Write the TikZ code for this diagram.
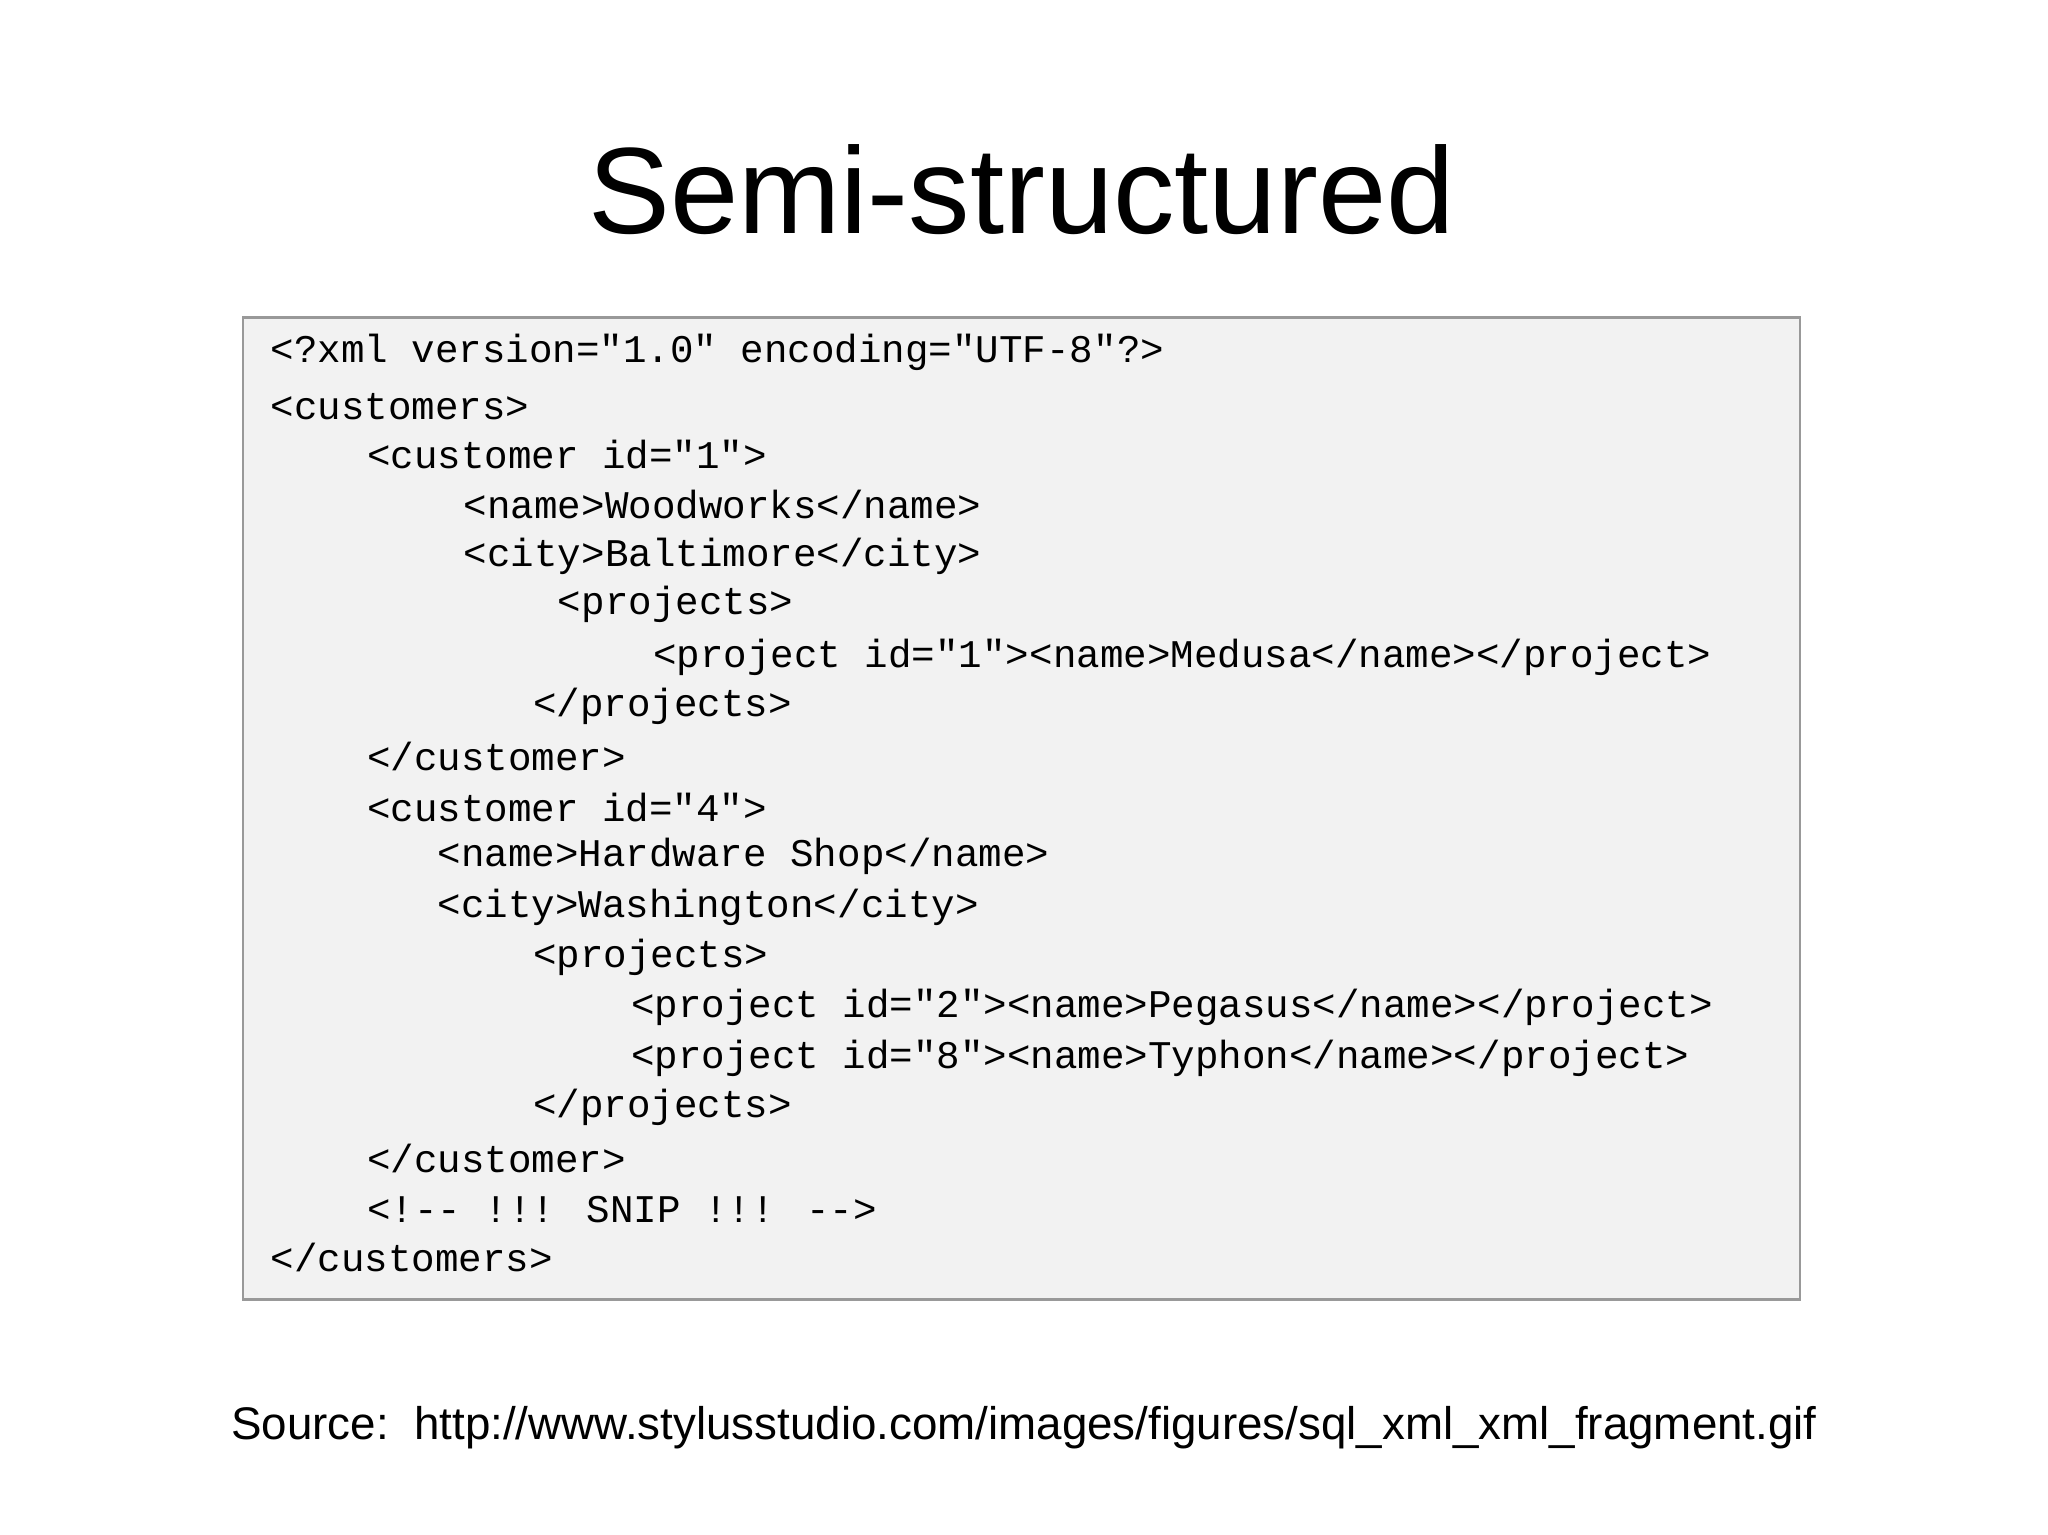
\documentclass[tikz,border=0pt]{standalone}
\usepackage{fontspec}
\setmainfont{Liberation Sans}
\newfontfamily\codefont{Liberation Mono}
\begin{document}
\begin{tikzpicture}[x=1pt,y=-1pt,
  codeline/.style={anchor=west,inner sep=0pt,font=\codefont\fontsize{30}{30}\selectfont},
  box/.style={draw=black!40,line width=2pt,fill=black!5}]
\useasboundingbox (0,0) rectangle (1568,1175);
\node[anchor=center,inner sep=0pt,font=\fontsize{94}{94}\selectfont] (title) at (782,145) {Semi-structured};
\draw[box] (186,243) rectangle (1378,995);
\node[codeline] (l1) at (207,270) {<?xml version="1.0" encoding="UTF-8"?>};
\node[codeline] (l2) at (207,311) {<customers>};
\node[codeline] (l3) at (281,348) {<customer id="1">};
\node[codeline] (l4) at (355,386) {<name>Woodworks</name>};
\node[codeline] (l5) at (355,426) {<city>Baltimore</city>};
\node[codeline] (l6) at (427,463) {<projects>};
\node[codeline] (l7) at (500,503) {<project id="1"><name>Medusa</name></project>};
\node[codeline] (l8) at (408,541) {</projects>};
\node[codeline] (l9) at (281,579) {</customer>};
\node[codeline] (l10) at (281,618) {<customer id="4">};
\node[codeline] (l11) at (335,656) {<name>Hardware Shop</name>};
\node[codeline] (l12) at (335,695) {<city>Washington</city>};
\node[codeline] (l13) at (408,733) {<projects>};
\node[codeline] (l14) at (483,771) {<project id="2"><name>Pegasus</name></project>};
\node[codeline] (l15) at (483,810) {<project id="8"><name>Typhon</name></project>};
\node[codeline] (l16) at (408,848) {</projects>};
\node[codeline] (l17) at (281,887) {</customer>};
\node[codeline] (l18) at (281,926) {<!-- !!! SNIP !!! -->};
\node[codeline] (l19) at (207,963) {</customers>};
\node[anchor=center,inner sep=0pt,font=\fontsize{35}{35}\selectfont] (src) at (784,1093) {Source:\ \ http://www.stylusstudio.com/images/figures/sql\_xml\_xml\_fragment.gif};
\end{tikzpicture}
\end{document}
